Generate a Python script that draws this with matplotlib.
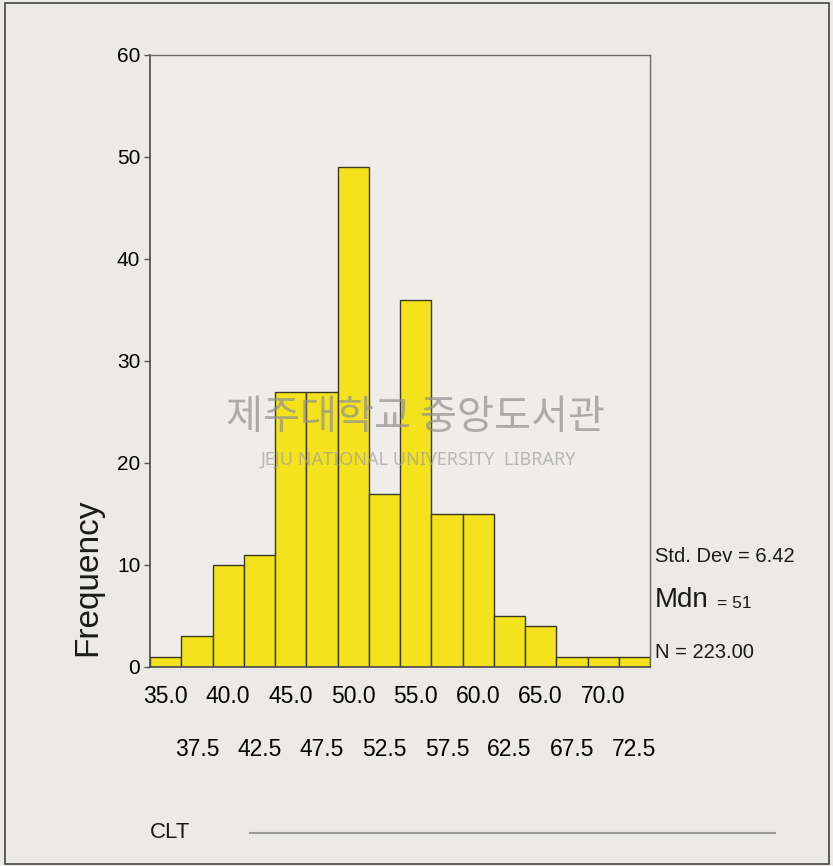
import numpy as np
import matplotlib.pyplot as plt
from matplotlib.patches import Rectangle
from matplotlib.lines import Line2D

# bin centres (width 2.5) and counts
centers = [35.0, 37.5, 40.0, 42.5, 45.0, 47.5, 50.0, 52.5,
           55.0, 57.5, 60.0, 62.5, 65.0, 67.5, 70.0, 72.5]
counts = [1, 3, 10, 11, 27, 27, 49, 17, 36, 15, 15, 5, 4, 1, 1, 1]
major_labels = ['35.0', '40.0', '45.0', '50.0', '55.0', '60.0', '65.0', '70.0']
minor_labels = ['37.5', '42.5', '47.5', '52.5', '57.5', '62.5', '67.5', '72.5']
yticks = [0, 10, 20, 30, 40, 50, 60]
stats = ['Std. Dev = 6.42', 'Mdn', '= 51', 'N = 223.00']

sans = ['Liberation Sans', 'DejaVu Sans']
paper = '#ECEAE6'

W, H = 833, 866
fig = plt.figure(figsize=(W / 100, H / 100), dpi=100)
fig.patch.set_facecolor(paper)

def fx(px):
    return px / W

def fy(py):
    return 1 - py / H

ax = fig.add_axes([fx(150), fy(667), fx(500), 612 / H])
ax.set_facecolor('#EFEDE9')

ax.bar(centers, counts, width=2.5, color='#F3E21C', edgecolor='#3c3a22',
       linewidth=1.0, zorder=2)

ax.set_xlim(33.75, 73.75)
ax.set_ylim(0, 60)

ax.set_yticks(yticks)
ax.set_yticklabels([str(v) for v in yticks], family=sans, fontsize=15)
ax.tick_params(axis='y', length=4, width=1, pad=3, color='#555555')

ax.set_xticks(centers[0::2])
ax.set_xticklabels(major_labels, family=sans, fontsize=16.5)
ax.set_xticks(centers[1::2], minor=True)
ax.set_xticklabels(minor_labels, minor=True, family=sans, fontsize=16.5)
ax.tick_params(axis='x', which='major', length=0, pad=13)
ax.tick_params(axis='x', which='minor', length=0, pad=51)

for side in ['left', 'bottom']:
    ax.spines[side].set_color('#4a4a4a')
    ax.spines[side].set_linewidth(1.2)
for side in ['top', 'right']:
    ax.spines[side].set_color('#6a6a6a')
    ax.spines[side].set_linewidth(1.0)

# y axis title
fig.text(fx(88), fy(577), 'Frequency', rotation=90, ha='center', va='center',
         family=sans, fontsize=24, color='#1a1a1a')

# summary statistics at the right
fig.text(fx(655), fy(556), stats[0], family=sans, fontsize=14.5,
         va='center', ha='left', color='#1a1a1a')
fig.text(fx(655), fy(600), stats[1], family=sans, fontsize=20,
         va='center', ha='left', color='#1a1a1a')
fig.text(fx(717), fy(604), stats[2], family=sans, fontsize=12.5,
         va='center', ha='left', color='#1a1a1a')
fig.text(fx(655), fy(652), stats[3], family=sans, fontsize=14.5,
         va='center', ha='left', color='#1a1a1a')

# variable name and rule below
fig.text(fx(150), fy(833), 'CLT', family=sans, fontsize=16,
         va='center', ha='left', color='#1a1a1a')
fig.add_artist(Line2D([fx(250), fx(775)], [fy(833), fy(833)],
                      color='#9a9a9a', linewidth=1.5))

# library watermark
fig.text(fx(416), fy(418), '제주대학교 중앙도서관', family=['Noto Sans CJK KR', 'DejaVu Sans'],
         fontsize=29, color='#909090', alpha=0.7, ha='center', va='center', zorder=5)
fig.text(fx(418), fy(460), 'JEJU NATIONAL UNIVERSITY  LIBRARY', family=['Noto Sans', 'DejaVu Sans'],
         fontsize=13, color='#a0a0a0', alpha=0.7, ha='center', va='center', zorder=5)

# scan frame
fig.add_artist(Rectangle((fx(5), fy(864)), fx(824), 861 / H, fill=False,
                         edgecolor='#444444', linewidth=1.2))

fig.savefig('out.png', dpi=100, facecolor=paper)
